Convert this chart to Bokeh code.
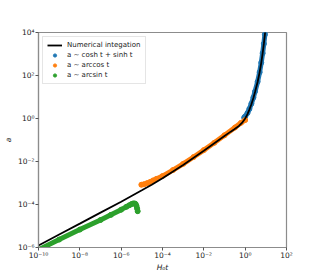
from bokeh.plotting import figure
from bokeh.models import (FixedTicker, CustomJSTickFormatter, Legend, LegendItem,
                          Range1d)
from bokeh.embed import file_html
from bokeh.resources import INLINE

# ---- data ----
t_num = [1e-10, 1e-9, 1e-8, 1e-7, 1e-6, 1e-5, 3e-5, 1e-4, 1e-3, 1e-2, 0.1, 0.2, 0.3,
         0.5, 0.7, 1.0, 1.3, 1.6, 2.0, 2.5, 3.0, 4.0, 5.0, 6.0, 7.0, 8.0, 9.0, 10.0]
a_num = [1.23e-6, 4.0e-6, 1.29e-5, 4.2e-5, 1.35e-4, 4.6e-4, 8.3e-4, 1.66e-3, 6.9e-3,
         3.16e-2, 0.155, 0.245, 0.32, 0.45, 0.62, 1.0, 1.6, 2.6, 4.6, 9.0, 17.0,
         50.0, 140.0, 390.0, 1080.0, 2950.0, 8000.0, 21800.0]

t_exp = [0.9, 1.0, 1.3, 1.6, 2.0, 2.5, 3.0, 4.0, 5.0, 6.0, 7.0, 8.0, 9.0, 10.0]
a_exp = [1.1, 1.25, 1.8, 2.8, 4.9, 9.5, 18.0, 51.0, 142.0, 395.0, 1090.0, 2960.0,
         8050.0, 21900.0]

t_acos = [9.5e-6, 1.26e-5, 1.78e-5, 2.5e-5, 3.5e-5, 5e-5, 1e-4, 3.2e-4, 1e-3, 3.2e-3,
          1e-2, 3.2e-2, 0.1, 0.32, 0.63, 1.0]
a_acos = [8.3e-4, 8.7e-4, 9.8e-4, 1.12e-3, 1.32e-3, 1.55e-3, 2.1e-3, 4.0e-3, 7.8e-3,
          1.62e-2, 3.4e-2, 7.4e-2, 0.166, 0.38, 0.63, 0.85]

t_asin = [1e-10, 1e-9, 1e-8, 1e-7, 3.2e-7, 1e-6, 1.8e-6, 2.5e-6, 3.2e-6, 3.8e-6, 4.5e-6,
          5.0e-6, 5.5e-6, 5.9e-6, 6.3e-6]
a_asin = [7.9e-7, 2.34e-6, 6.8e-6, 1.9e-5, 3.3e-5, 5.75e-5, 7.8e-5, 9.3e-5, 1.05e-4,
          1.12e-4, 1.12e-4, 1.05e-4, 8.7e-5, 6.6e-5, 4.9e-5]

x_ticks = [1e-10, 1e-8, 1e-6, 1e-4, 1e-2, 1e0, 1e2]
y_ticks = [1e-6, 1e-4, 1e-2, 1e0, 1e2, 1e4]

labels = ["Numerical integation", "a ~ cosh t + sinh t", "a ~ arccos t", "a ~ arcsin t"]
colors = ["#000000", "#1f77b4", "#ff7f0e", "#2ca02c"]

p = figure(frame_width=248, frame_height=215, x_axis_type="log", y_axis_type="log",
           x_range=Range1d(1e-10, 1e2), y_range=Range1d(1e-6, 1e4),
           output_backend="svg", toolbar_location=None,
           min_border_left=32, min_border_right=22, min_border_top=32,
           min_border_bottom=20)

p.xgrid.visible = False
p.ygrid.visible = False
p.outline_line_color = "#8c8c8c"
p.outline_line_width = 1.2
p.background_fill_color = "white"
p.border_fill_color = "white"

sup_code = """
const e = Math.round(Math.log10(tick));
const sup = {'0':'\u2070','1':'\u00b9','2':'\u00b2','3':'\u00b3','4':'\u2074',
             '5':'\u2075','6':'\u2076','7':'\u2077','8':'\u2078','9':'\u2079','-':'\u207b'};
return '10' + String(e).split('').map(c => sup[c]).join('');
"""

for ax, ticks in ((p.xaxis[0], x_ticks), (p.yaxis[0], y_ticks)):
    ax.ticker = FixedTicker(ticks=ticks, minor_ticks=[])
    ax.formatter = CustomJSTickFormatter(code=sup_code)
    ax.major_label_text_font = "DejaVu Sans"
    ax.major_label_text_font_size = "7.5px"
    ax.major_label_text_color = "#222222"
    ax.major_tick_out = 3
    ax.major_tick_in = 0
    ax.major_tick_line_color = "#555555"
    ax.axis_line_color = "#8c8c8c"
    ax.axis_line_width = 1.2
    ax.axis_label_text_font = "DejaVu Sans"
    ax.axis_label_text_font_size = "7.5px"
    ax.axis_label_text_font_style = "italic"
    ax.axis_label_text_color = "#222222"

p.xaxis.major_label_standoff = 0
p.xaxis.axis_label_standoff = 0
p.yaxis.major_label_standoff = 1
p.yaxis.axis_label_standoff = 2

p.xaxis.axis_label = "H\u2080t"
p.yaxis.axis_label = "a"

# approximations: thick bands of dots
r_exp_l = p.line(t_exp, a_exp, line_width=5, color=colors[1], line_cap="round", line_join="round")
r_exp = p.scatter(t_exp, a_exp, size=5, color=colors[1])
r_acos_l = p.line(t_acos, a_acos, line_width=5, color=colors[2], line_cap="round", line_join="round")
r_acos = p.scatter(t_acos, a_acos, size=5, color=colors[2])
r_asin_l = p.line(t_asin, a_asin, line_width=5, color=colors[3], line_cap="round", line_join="round")
r_asin = p.scatter(t_asin, a_asin, size=5, color=colors[3])

r_num = p.line(t_num, a_num, line_width=1.8, color=colors[0])

legend = Legend(items=[
    LegendItem(label=labels[0], renderers=[r_num]),
    LegendItem(label=labels[1], renderers=[r_exp]),
    LegendItem(label=labels[2], renderers=[r_acos]),
    LegendItem(label=labels[3], renderers=[r_asin]),
], location="top_left")
legend.label_text_font = "DejaVu Sans"
legend.label_text_font_size = "7px"
legend.label_text_color = "#222222"
legend.label_height = 8
legend.label_standoff = 5
legend.glyph_width = 15
legend.glyph_height = 8
legend.spacing = 2
legend.padding = 4
legend.margin = 4
legend.border_line_color = "#cccccc"
legend.border_line_width = 1
legend.background_fill_alpha = 0.8
p.add_layout(legend)

open("out.html", "w").write(file_html(p, INLINE))
